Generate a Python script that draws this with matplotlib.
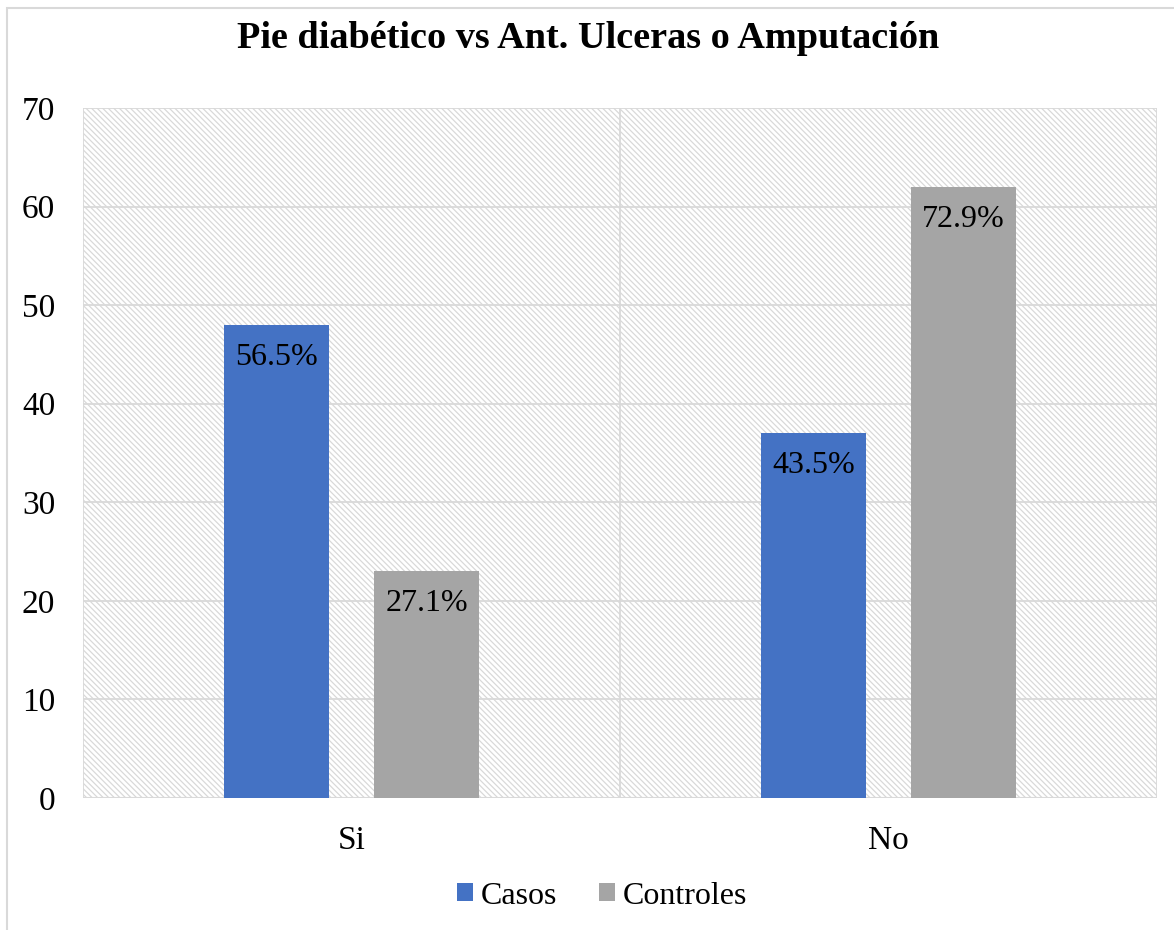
import matplotlib
matplotlib.use("Agg")
import matplotlib.pyplot as plt
from matplotlib.patches import Rectangle
import numpy as np

categories = ["Si", "No"]
casos = [48, 37]
controles = [23, 62]
casos_pct = ["56.5%", "43.5%"]
controles_pct = ["27.1%", "72.9%"]
yticks = [0, 10, 20, 30, 40, 50, 60, 70]

plt.rcParams["font.family"] = ["Liberation Serif", "DejaVu Serif"]
plt.rcParams["hatch.linewidth"] = 0.9
plt.rcParams["hatch.color"] = "#d9d9d9"

fig = plt.figure(figsize=(11.74, 9.30), dpi=100)
W, H = 1174, 930
ax = fig.add_axes([83 / W, 1 - 798 / H, (1157 - 83) / W, (798 - 108) / H])

# outer chart frame
fig.patches.append(Rectangle((7 / W, -0.01), 1.2, 1 - 8 / H + 0.01, transform=fig.transFigure,
                             fill=False, edgecolor="#d9d9d9", linewidth=1.5, zorder=0))

# hatched plot-area background
ax.add_patch(Rectangle((0, 0), 1, 1, transform=ax.transAxes, facecolor="white",
                       hatch="\\" * 6, edgecolor="#d9d9d9", linewidth=0, zorder=0))

x = np.arange(len(categories))
bw = 0.195
off = 0.14
b1 = ax.bar(x - off, casos, bw, color="#4472C4", zorder=3, label="Casos")
b2 = ax.bar(x + off, controles, bw, color="#A5A5A5", zorder=3, label="Controles")

for bars, labels in ((b1, casos_pct), (b2, controles_pct)):
    for rect, lab in zip(bars, labels):
        ax.annotate(lab, (rect.get_x() + rect.get_width() / 2, rect.get_height()),
                    xytext=(0, -13), textcoords="offset points", ha="center", va="top",
                    fontsize=23, color="#000000", zorder=4)

ax.set_xlim(-0.5, 1.5)
ax.set_ylim(0, 70)
ax.set_yticks(yticks)
ax.set_xticks(x)
ax.set_xticklabels(categories)
ax.tick_params(axis="both", length=0, labelsize=24, colors="black")
ax.tick_params(axis="y", pad=20)
ax.tick_params(axis="x", pad=20)

for yv in yticks[1:]:
    ax.axhline(yv, color="#d9d9d9", linewidth=1.3, zorder=1)
for xv in (-0.5, 0.5, 1.5):
    ax.axvline(xv, color="#d9d9d9", linewidth=1.3, zorder=1)
for s in ax.spines.values():
    s.set_visible(False)
ax.axhline(0, color="#d9d9d9", linewidth=1.5, zorder=2)

fig.text(588 / W, 1 - 38 / H, "Pie diabético vs Ant. Ulceras o Amputación",
         ha="center", va="center", fontsize=27.5, fontweight="bold")

fig.legend(handles=[b1, b2], loc="center", bbox_to_anchor=(602 / W, 1 - 896 / H),
           ncol=2, frameon=False, fontsize=23, handlelength=0.5, handleheight=0.5,
           handletextpad=0.25, columnspacing=1.3)

fig.savefig("out.png", dpi=100)
